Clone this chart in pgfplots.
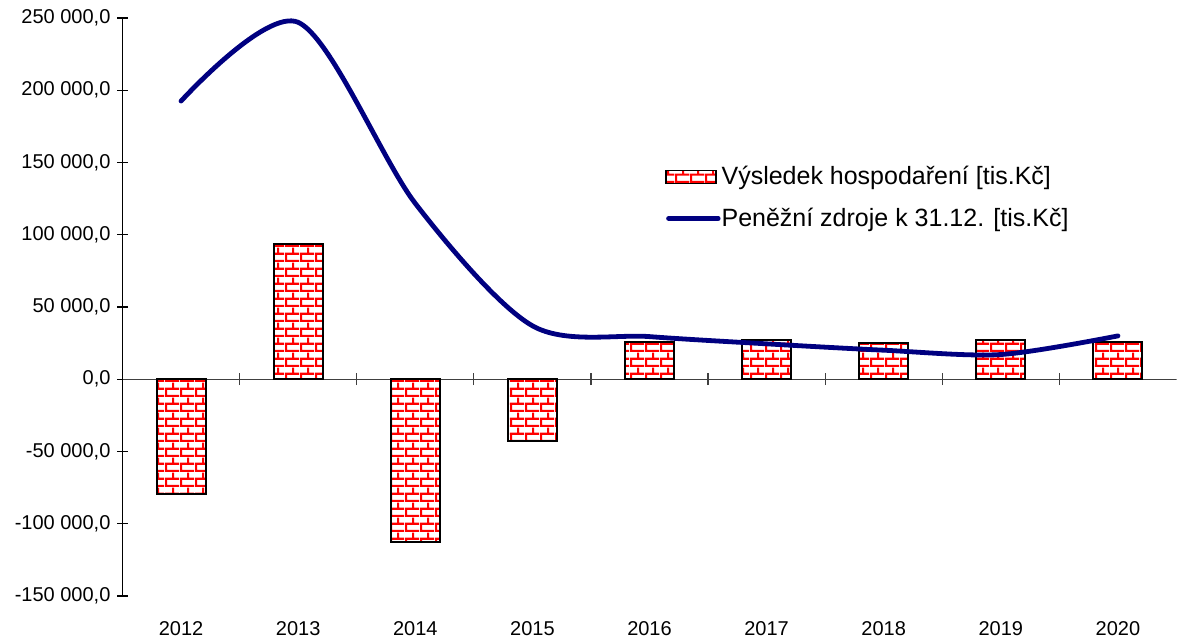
\documentclass[border=0pt]{standalone}
\usepackage{fontspec}
\setmainfont{Liberation Sans}
\usepackage{pgfplots}
\pgfplotsset{compat=1.18}
\usetikzlibrary{patterns,calc}
\definecolor{navy}{RGB}{0,0,128}
\pgfdeclarepatternformonly{mybricks}{\pgfqpoint{0pt}{0pt}}{\pgfqpoint{7.5pt}{7.6pt}}{\pgfqpoint{7.5pt}{7.6pt}}{%
  \pgfsetlinewidth{1.1pt}%
  \pgfpathmoveto{\pgfqpoint{0pt}{0.55pt}}\pgfpathlineto{\pgfqpoint{7.5pt}{0.55pt}}%
  \pgfpathmoveto{\pgfqpoint{0pt}{4.35pt}}\pgfpathlineto{\pgfqpoint{7.5pt}{4.35pt}}%
  \pgfpathmoveto{\pgfqpoint{0.55pt}{0.55pt}}\pgfpathlineto{\pgfqpoint{0.55pt}{4.35pt}}%
  \pgfpathmoveto{\pgfqpoint{4.3pt}{4.35pt}}\pgfpathlineto{\pgfqpoint{4.3pt}{7.6pt}}%
  \pgfpathmoveto{\pgfqpoint{4.3pt}{0pt}}\pgfpathlineto{\pgfqpoint{4.3pt}{0.55pt}}%
  \pgfusepath{stroke}%
}
\begin{document}
\begin{tikzpicture}
\begin{axis}[name=ax,
  scale only axis, width=527pt, height=289pt,
  xmin=-0.5, xmax=8.5, ymin=-150000, ymax=250000,
  axis y line=left, axis x line=bottom,
  x axis line style={draw=none},
  y axis line style={-, black, line width=0.6pt},
  xtick={0,...,8},
  xticklabels={2012,2013,2014,2015,2016,2017,2018,2019,2020},
  major x tick style={draw=none},
  xticklabel style={yshift=-6.5pt},
  ytick={-150000,-100000,-50000,0,50000,100000,150000,200000,250000},
  tick align=center, major tick length=5pt,
  y tick style={black, line width=0.6pt},
  scaled y ticks=false,
  /pgf/number format/assume math mode=true,
  /pgf/number format/fixed,
  /pgf/number format/fixed zerofill,
  /pgf/number format/precision=1,
  /pgf/number format/use comma,
  /pgf/number format/1000 sep={\ },
  legend style={draw=none, fill=none, at={(0.5147,0.7475)}, anchor=north west,
    row sep=8pt, inner sep=0pt, font=\fontsize{12.5}{15}\selectfont,
    nodes={inner sep=1pt},
    /tikz/every odd column/.append style={column sep=-0.5pt}},
  legend cell align=left,
]
\draw[black!75, line width=0.6pt] (axis cs:-0.5,0) -- (axis cs:8.5,0);
\pgfplotsinvokeforeach{0.5,1.5,2.5,3.5,4.5,5.5,6.5,7.5}{
  \draw[black!75, line width=0.6pt] ($(axis cs:#1,0)+(0pt,-3pt)$) -- ($(axis cs:#1,0)+(0pt,3pt)$);
}
\addplot[ybar, bar width=24.5pt, draw=black, line width=1pt, pattern=mybricks, pattern color=red,
  legend image code/.code={\draw[pattern=mybricks, pattern color=red, draw=black, line width=0.8pt] (0pt,-3.3pt) rectangle (25pt,3.3pt);}]
  coordinates {(0,-79100) (1,93300) (2,-112400) (3,-42500) (4,25900) (5,27500) (6,24900) (7,27500) (8,26100)};
\addlegendentry{Výsledek hospodaření [tis.Kč]}
\addplot[navy, line width=2.4pt, smooth, line cap=round, line join=round,
  legend image code/.code={\draw[navy, line width=2.4pt, line cap=round] (1.2pt,0pt) -- (26pt,0pt);}]
  coordinates {(0,192500) (1,247000) (2,121700) (3,37000) (4,29500) (5,24500) (6,20100) (7,17100) (8,30000)};
\addlegendentry{Peněžní zdroje k 31.12. [tis.Kč]}
\end{axis}
\pgfresetboundingbox
\useasboundingbox ($(ax.south west)+(-61.25pt,-21pt)$) rectangle ($(ax.north east)+(0.25pt,9pt)$);
\end{tikzpicture}
\end{document}
